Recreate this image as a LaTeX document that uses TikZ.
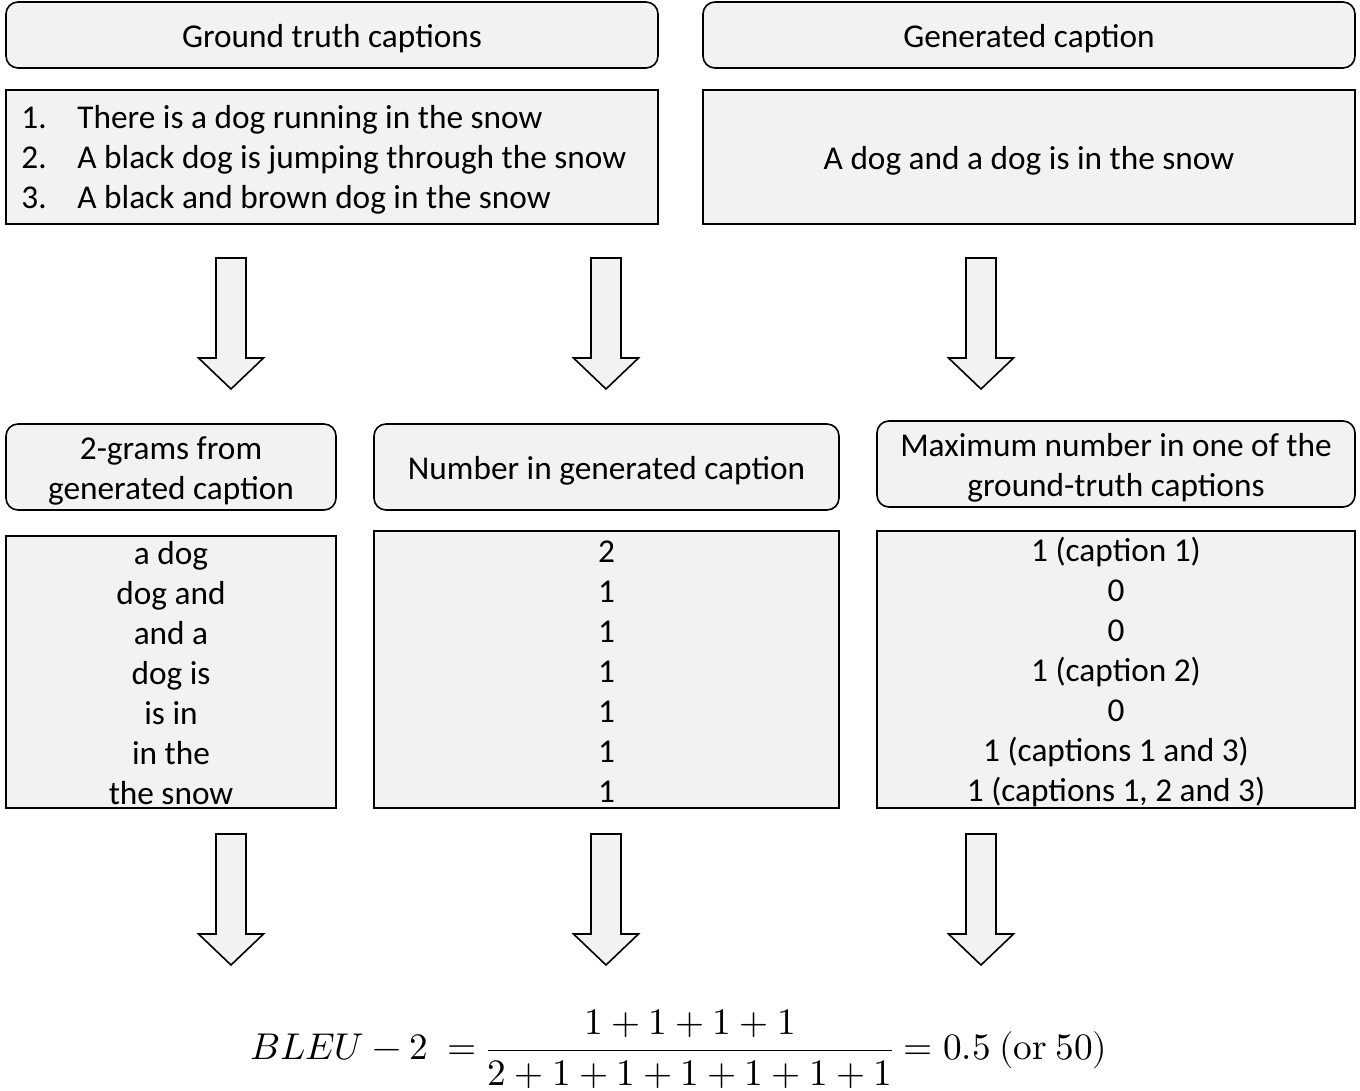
\documentclass[tikz,border=0pt]{standalone}
\usepackage{amsmath}
\usepackage{unicode-math}
\setmainfont{Carlito}
\setmathfont{Latin Modern Math}
\definecolor{boxfill}{HTML}{F2F2F2}
\tikzset{
  hdr/.style={draw=black, line width=1.6pt, fill=boxfill, rounded corners=12pt, inner sep=0pt},
  bodybox/.style={draw=black, line width=1.6pt, fill=boxfill, inner sep=0pt},
  txt/.style={inner sep=0pt, align=center, font=\fontsize{33.3}{40}\selectfont},
  downarrow/.pic={
    \draw[line width=1.6pt, fill=boxfill, line join=miter]
      (-15,0) -- (15,0) -- (15,100) -- (32.5,100) -- (0,131) -- (-32.5,100) -- (-15,100) -- cycle;
  }
}
\begin{document}
\begin{tikzpicture}[x=1pt,y=-1pt]
\useasboundingbox (0,0) rectangle (1360,1091);
% top headers
\node[hdr, minimum width=652pt, minimum height=66pt] (hA) at (332,35) {};
\node[txt] (tA) at ([yshift=-4pt]hA.center) {Ground truth captions};
\node[hdr, minimum width=652pt, minimum height=66pt] (hB) at (1029,35) {};
\node[txt] (tB) at ([yshift=-4pt]hB.center) {Generated caption};
% top bodies
\node[bodybox, minimum width=652pt, minimum height=134pt] (bA) at (332,157) {};
\node[txt, anchor=west, align=left] (lA) at ([xshift=16pt,yshift=-4pt]bA.west)
  {\begin{tabular}{@{}p{56pt}@{}l@{}}1.&There is a dog running in the snow\\2.&A black dog is jumping through the snow\\3.&A black and brown dog in the snow\end{tabular}};
\node[bodybox, minimum width=652pt, minimum height=134pt] (bB) at (1029,157) {};
\node[txt] (lB) at ([yshift=-4pt]bB.center) {A dog and a dog is in the snow};
% arrows row 1
\pic at (231,258) {downarrow};
\pic at (606,258) {downarrow};
\pic at (981,258) {downarrow};
% middle headers
\node[hdr, minimum width=330pt, minimum height=86pt] (hC) at (171,467) {};
\node[txt] (tC) at ([yshift=-4pt]hC.center) {2-grams from\\generated caption};
\node[hdr, minimum width=465pt, minimum height=86pt] (hD) at (606.5,467) {};
\node[txt] (tD) at ([yshift=-4pt]hD.center) {Number in generated caption};
\node[hdr, minimum width=478pt, minimum height=86pt] (hE) at (1116,464) {};
\node[txt] (tE) at ([yshift=-4pt]hE.center) {Maximum number in one of the\\ground-truth captions};
% middle bodies
\node[bodybox, minimum width=330pt, minimum height=272pt] (bC) at (171,672) {};
\node[txt] (lC) at (171,673) {a dog\\dog and\\and a\\dog is\\is in\\in the\\the snow};
\node[bodybox, minimum width=465pt, minimum height=277pt] (bD) at (606.5,669.5) {};
\node[txt] (lD) at (606.5,671.5) {2\\1\\1\\1\\1\\1\\1};
\node[bodybox, minimum width=478pt, minimum height=277pt] (bE) at (1116,669.5) {};
\node[txt] (lE) at (1116,672) {1 (caption 1)\\0\\0\\1 (caption 2)\\0\\1 (captions 1 and 3)\\1 (captions 1, 2 and 3)};
% arrows row 2
\pic at (231,834) {downarrow};
\pic at (606,834) {downarrow};
\pic at (981,834) {downarrow};
% formula
\node[inner sep=0pt, font=\fontsize{37.3}{40}\selectfont] (f) at (679,1049)
  {$\displaystyle BLEU-2\ =\frac{1+1+1+1}{2+1+1+1+1+1+1}=0.5\ (\symup{or}\ 50)$};
\end{tikzpicture}
\end{document}
